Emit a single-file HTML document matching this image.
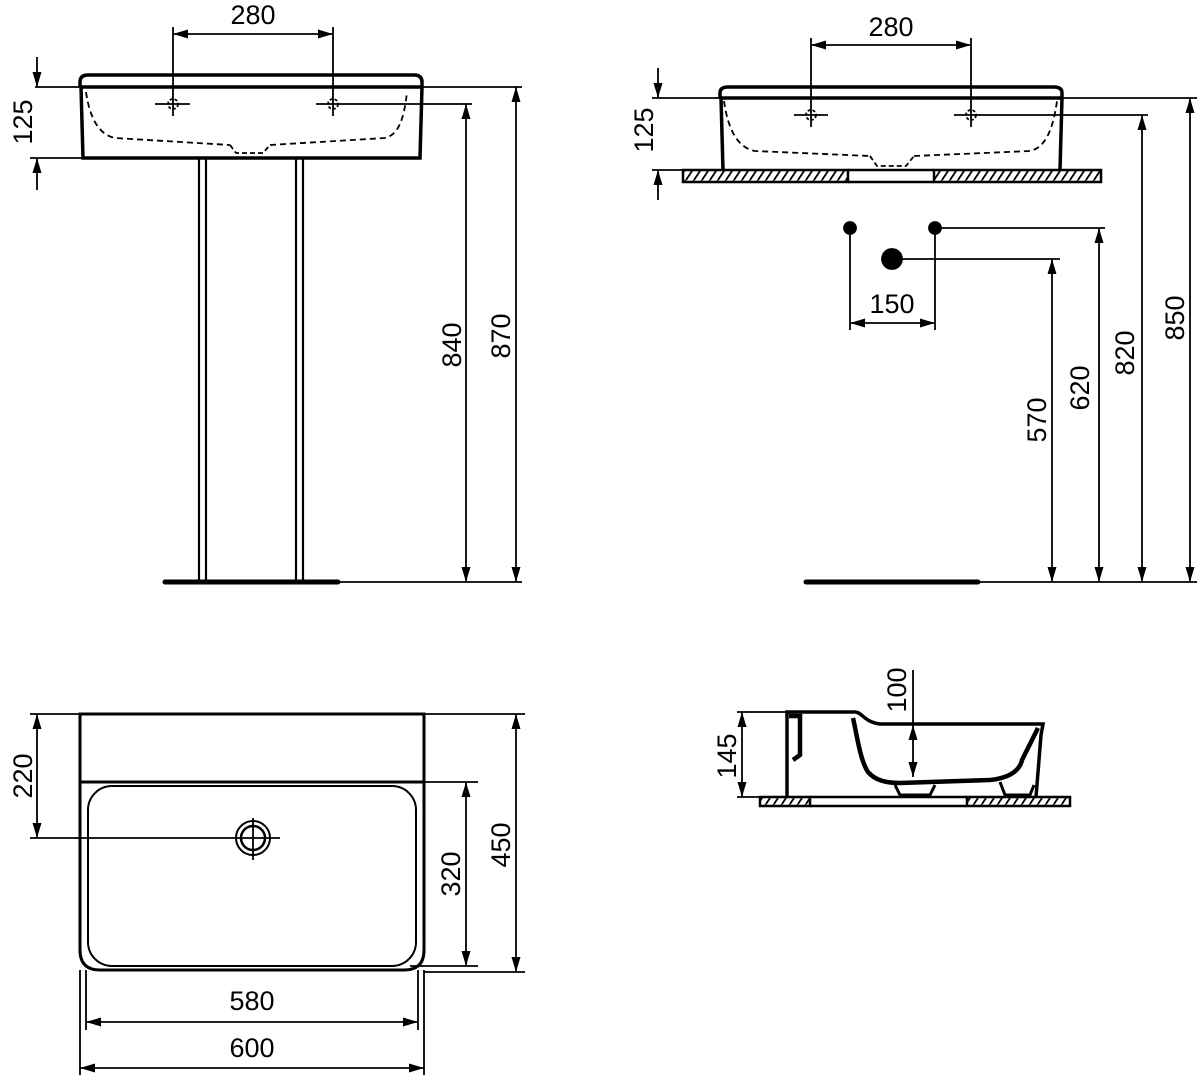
<!DOCTYPE html>
<html><head><meta charset="utf-8"><style>
html,body{margin:0;padding:0;background:#fff}
svg{display:block}
text{font-family:"Liberation Sans",Arial,sans-serif;font-size:27px;fill:#000}
</style></head><body>
<svg width="1200" height="1075" viewBox="0 0 1200 1075" xmlns="http://www.w3.org/2000/svg">
<defs>
<marker id="a" viewBox="0 0 15 9" refX="15" refY="4.5" markerWidth="15" markerHeight="9" orient="auto-start-reverse" markerUnits="userSpaceOnUse"><path d="M0,0 L15,4.5 L0,9 Z" fill="#000"/></marker>
<pattern id="h" width="8" height="12" patternUnits="userSpaceOnUse"><path d="M-2,12 L6,0 M6,12 L14,0" stroke="#000" stroke-width="1.8"/></pattern>
</defs>
<g fill="none" stroke="#000" stroke-width="1.8">
<!-- TOP LEFT -->
<path d="M80,87 V82 Q80,75 88,75 H414 Q422,75 422,82 V87" stroke-width="3.5"/>
<line x1="80" y1="87" x2="422" y2="87" stroke-width="3.5"/>
<path d="M81,87 L83,158 H420 L422,87" stroke-width="3.5"/>
<line x1="35" y1="87" x2="522" y2="87"/>
<line x1="30" y1="158" x2="83" y2="158"/>
<line x1="37" y1="57" x2="37" y2="87" marker-end="url(#a)"/>
<line x1="37" y1="190" x2="37" y2="158" marker-end="url(#a)"/>
<path d="M86,92 C90,120 100,135 115,138 L230,145 M270,145 L385,138 C398,135 404,120 407,92" stroke-dasharray="6,4"/>
<path d="M230,145 L236,153 H263 L270,145" stroke-dasharray="5,3"/>
<line x1="173" y1="27" x2="173" y2="116"/><line x1="333" y1="27" x2="333" y2="116"/>
<line x1="173" y1="34" x2="333" y2="34" marker-start="url(#a)" marker-end="url(#a)"/>
<circle cx="173" cy="104" r="5" stroke-dasharray="3,2"/><line x1="155" y1="104" x2="190" y2="104"/>
<circle cx="333" cy="104" r="5" stroke-dasharray="3,2"/><line x1="316" y1="104" x2="472" y2="104"/>
<line x1="199" y1="158" x2="199" y2="580" stroke-width="2.2"/><line x1="206" y1="158" x2="206" y2="580" stroke-width="2.2"/>
<line x1="296" y1="158" x2="296" y2="580" stroke-width="2.2"/><line x1="303" y1="158" x2="303" y2="580" stroke-width="2.2"/>
<line x1="165" y1="582" x2="338" y2="582" stroke-width="5" stroke-linecap="round"/>
<line x1="338" y1="582" x2="522" y2="582"/>
<line x1="466" y1="104" x2="466" y2="582" marker-start="url(#a)" marker-end="url(#a)"/>
<line x1="516" y1="87" x2="516" y2="582" marker-start="url(#a)" marker-end="url(#a)"/>
<!-- TOP RIGHT -->
<path d="M720,98 V93 Q720,87 728,87 H1054 Q1062,87 1062,93 V98" stroke-width="3.5"/>
<line x1="720" y1="98" x2="1062" y2="98" stroke-width="3.5"/>
<path d="M721,98 L723,170 M1060,170 L1062,98" stroke-width="3.5"/>
<rect x="683" y="170" width="165" height="12" fill="url(#h)" stroke-width="2.5"/>
<rect x="934" y="170" width="167" height="12" fill="url(#h)" stroke-width="2.5"/>
<line x1="848" y1="170" x2="934" y2="170" stroke-width="2.5"/><line x1="848" y1="182" x2="934" y2="182" stroke-width="2.5"/>
<line x1="652" y1="98" x2="1197" y2="98"/>
<line x1="652" y1="170" x2="683" y2="170"/>
<line x1="658" y1="68" x2="658" y2="98" marker-end="url(#a)"/>
<line x1="658" y1="200" x2="658" y2="170" marker-end="url(#a)"/>
<path d="M724,101 C728,130 738,148 755,151 L870,156 M914,156 L1030,151 C1045,148 1053,130 1057,101" stroke-dasharray="6,4"/>
<path d="M870,156 L877,166 H906 L914,156" stroke-dasharray="5,3"/>
<line x1="811" y1="38" x2="811" y2="127"/><line x1="971" y1="38" x2="971" y2="127"/>
<line x1="811" y1="45" x2="971" y2="45" marker-start="url(#a)" marker-end="url(#a)"/>
<circle cx="811" cy="115" r="5" stroke-dasharray="3,2"/><line x1="794" y1="115" x2="828" y2="115"/>
<circle cx="971" cy="115" r="5" stroke-dasharray="3,2"/><line x1="954" y1="115" x2="1148" y2="115"/>
<circle cx="850" cy="228" r="6" fill="#000"/><circle cx="935" cy="228" r="6" fill="#000"/><circle cx="892" cy="259" r="10" fill="#000"/>
<line x1="935" y1="228" x2="1105" y2="228"/><line x1="892" y1="259" x2="1060" y2="259"/>
<line x1="850" y1="228" x2="850" y2="330"/><line x1="935" y1="228" x2="935" y2="330"/>
<line x1="850" y1="323" x2="935" y2="323" marker-start="url(#a)" marker-end="url(#a)"/>
<line x1="1052" y1="259" x2="1052" y2="582" marker-start="url(#a)" marker-end="url(#a)"/>
<line x1="1099" y1="228" x2="1099" y2="582" marker-start="url(#a)" marker-end="url(#a)"/>
<line x1="1142" y1="115" x2="1142" y2="582" marker-start="url(#a)" marker-end="url(#a)"/>
<line x1="1190" y1="98" x2="1190" y2="582" marker-start="url(#a)" marker-end="url(#a)"/>
<line x1="806" y1="582" x2="978" y2="582" stroke-width="5" stroke-linecap="round"/>
<line x1="978" y1="582" x2="1197" y2="582"/>
<!-- BOTTOM LEFT -->
<path d="M80,714 H424 V782 H80 Z" stroke-width="3"/>
<path d="M80,782 V950 Q80,970 100,970 H404 Q424,970 424,950 V782" stroke-width="3"/>
<rect x="88" y="786" width="328" height="180" rx="24" stroke-width="2"/>
<circle cx="253" cy="838" r="17" stroke-width="2"/><circle cx="253" cy="838" r="12" stroke-width="2.5"/>
<line x1="253" y1="818" x2="253" y2="860"/><line x1="30" y1="838" x2="280" y2="838"/>
<line x1="30" y1="714" x2="80" y2="714"/><line x1="424" y1="714" x2="525" y2="714"/>
<line x1="424" y1="782" x2="478" y2="782"/><line x1="410" y1="966" x2="478" y2="966"/><line x1="424" y1="972" x2="525" y2="972"/>
<line x1="37" y1="714" x2="37" y2="838" marker-start="url(#a)" marker-end="url(#a)"/>
<line x1="466" y1="782" x2="466" y2="966" marker-start="url(#a)" marker-end="url(#a)"/>
<line x1="516" y1="714" x2="516" y2="972" marker-start="url(#a)" marker-end="url(#a)"/>
<line x1="86" y1="970" x2="86" y2="1030"/><line x1="418" y1="970" x2="418" y2="1030"/>
<line x1="86" y1="1022" x2="418" y2="1022" marker-start="url(#a)" marker-end="url(#a)"/>
<line x1="80" y1="970" x2="80" y2="1075"/><line x1="424" y1="970" x2="424" y2="1075"/>
<line x1="80" y1="1068" x2="424" y2="1068" marker-start="url(#a)" marker-end="url(#a)"/>
<!-- BOTTOM RIGHT -->
<rect x="760" y="797" width="50" height="9" fill="url(#h)" stroke-width="2.5"/>
<rect x="967" y="797" width="103" height="9" fill="url(#h)" stroke-width="2.5"/>
<line x1="810" y1="797" x2="967" y2="797" stroke-width="2.5"/><line x1="810" y1="806" x2="967" y2="806" stroke-width="2.5"/>
<path d="M787,797 V712 H855 C862,712 864,722 880,724 H1043 L1041,735 L1036,797" stroke-width="3.5"/>
<path d="M789,716 H800 V755 L793,760" stroke-width="4.5"/>
<path d="M853,718 C857,735 860,760 868,772 C875,780 885,783 900,783 L990,780 C1010,778 1020,770 1022,760 L1038,728" stroke-width="4.5"/>
<path d="M895,785 L900,795 H930 L935,785 M1000,782 L1005,795 H1030 L1034,785" stroke-width="3"/>
<line x1="737" y1="712" x2="787" y2="712"/><line x1="737" y1="797" x2="787" y2="797"/>
<line x1="742" y1="712" x2="742" y2="797" marker-start="url(#a)" marker-end="url(#a)"/>
<line x1="913" y1="670" x2="913" y2="725"/>
<line x1="913" y1="725" x2="913" y2="777" marker-start="url(#a)" marker-end="url(#a)"/>
</g>
<g text-anchor="middle">
<text x="253" y="24">280</text>
<text x="891" y="36">280</text>
<text x="892" y="313">150</text>
<text x="252" y="1010">580</text>
<text x="252" y="1057">600</text>
<text transform="translate(32,122) rotate(-90)">125</text>
<text transform="translate(653,130) rotate(-90)">125</text>
<text transform="translate(461,345) rotate(-90)">840</text>
<text transform="translate(510,336) rotate(-90)">870</text>
<text transform="translate(1046,420) rotate(-90)">570</text>
<text transform="translate(1089,388) rotate(-90)">620</text>
<text transform="translate(1134,353) rotate(-90)">820</text>
<text transform="translate(1184,318) rotate(-90)">850</text>
<text transform="translate(32,776) rotate(-90)">220</text>
<text transform="translate(460,874) rotate(-90)">320</text>
<text transform="translate(510,845) rotate(-90)">450</text>
<text transform="translate(736,756) rotate(-90)">145</text>
<text transform="translate(906,690) rotate(-90)">100</text>
</g>
</svg>
</body></html>
